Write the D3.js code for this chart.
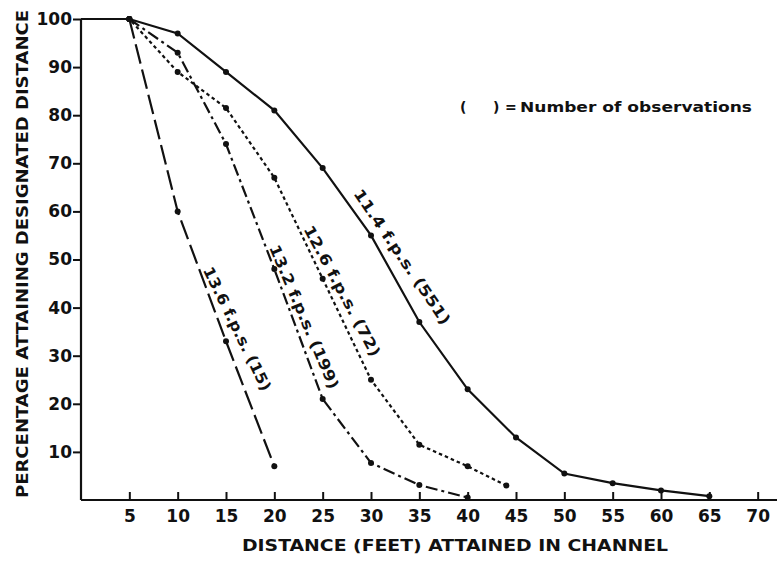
<!DOCTYPE html>
<html>
<head>
<meta charset="utf-8">
<script src="https://cdn.jsdelivr.net/npm/d3@7"></script>
<style>
  html, body { margin: 0; padding: 0; background: #fff; }
  svg { display: block; }
  text { font-family: "DejaVu Sans", "Liberation Sans", sans-serif; font-weight: bold; fill: #111; }
</style>
</head>
<body>
<svg id="chart" width="782" height="563"></svg>
<script>
// Distances (feet) and percentage of fish attaining each distance, per velocity.
const xTicks = [5, 10, 15, 20, 25, 30, 35, 40, 45, 50, 55, 60, 65, 70];
const yTicks = [10, 20, 30, 40, 50, 60, 70, 80, 90, 100];

const dist114 = [0, 5, 10, 15, 20, 25, 30, 35, 40, 45, 50, 55, 60, 65];
const pct114  = [100, 100, 97, 89, 81, 69, 55, 37, 23, 13, 5.5, 3.5, 2, 0.8];

const dist126 = [0, 5, 10, 15, 20, 25, 30, 35, 40, 44];
const pct126  = [100, 100, 89, 81.5, 67, 46, 25, 11.5, 7, 3];

const dist132 = [5, 10, 15, 20, 25, 30, 35, 40];
const pct132  = [100, 93, 74, 48, 21, 7.7, 3.1, 0.5];

const dist136 = [5, 10, 15, 20];
const pct136  = [100, 60, 33, 7];

const seriesLabels = ["11.4 f.p.s. (551)", "12.6 f.p.s. (72)", "13.2 f.p.s. (199)", "13.6 f.p.s. (15)"];

const svg = d3.select("#chart");
const x = d3.scaleLinear().domain([0, 72]).range([81, 777]);
const y = d3.scaleLinear().domain([0, 100]).range([500, 19]);

// Axes
const xAxis = d3.axisBottom(x).tickValues(xTicks).tickSize(-8).tickPadding(10).tickFormat(d3.format("d"));
const yAxis = d3.axisLeft(y).tickValues(yTicks).tickSize(8).tickPadding(1).tickFormat(d3.format("d"));

const gx = svg.append("g").attr("transform", `translate(0,${y(0)})`).call(xAxis);
const gy = svg.append("g").attr("transform", `translate(${x(0)},0)`).call(yAxis);

[gx, gy].forEach(g => {
  g.select(".domain").attr("stroke", "#111").attr("stroke-width", 2.2);
  g.selectAll(".tick line").attr("stroke", "#111").attr("stroke-width", 2);
  g.selectAll(".tick text").style("font-size", "17px").attr("fill", "#111");
});
gx.select(".domain").attr("d", `M${x(0)},0H${x(72)}`);
gy.select(".domain").attr("d", `M0,${y(0)}V${y(100)}`);

// Series lines
const series = [
  { xs: dist114, ys: pct114, dash: null, w: 2.2 },
  { xs: dist126, ys: pct126, dash: "3.5,3", w: 2.2 },
  { xs: dist132, ys: pct132, dash: "12,4,3,4", w: 2.2 },
  { xs: dist136, ys: pct136, dash: "20,6", w: 2.2 }
];

const line = d3.line().x(d => x(d[0])).y(d => y(d[1]));

series.forEach(s => {
  const pts = s.xs.map((v, i) => [v, s.ys[i]]);
  svg.append("path")
    .datum(pts)
    .attr("d", line)
    .attr("fill", "none")
    .attr("stroke", "#111")
    .attr("stroke-width", s.w)
    .attr("stroke-dasharray", s.dash);
  svg.append("g").selectAll("circle")
    .data(pts.filter(p => p[0] > 0))
    .join("circle")
    .attr("cx", d => x(d[0]))
    .attr("cy", d => y(d[1]))
    .attr("r", 3)
    .attr("fill", "#111");
});

// Labels written along each curve
const labelPlacement = [
  { cx: 402, cy: 257, angle: 56, len: 160 },
  { cx: 342, cy: 291, angle: 62, len: 146 },
  { cx: 304, cy: 317, angle: 67, len: 155 },
  { cx: 237, cy: 329, angle: 64, len: 136 }
];
seriesLabels.forEach((t, i) => {
  const p = labelPlacement[i];
  svg.append("text")
    .attr("transform", `translate(${p.cx},${p.cy}) rotate(${p.angle})`)
    .attr("text-anchor", "middle")
    .attr("dominant-baseline", "central")
    .attr("textLength", p.len)
    .attr("lengthAdjust", "spacingAndGlyphs")
    .style("font-size", "15px")
    .text(t);
});

// Key for the bracketed numbers
const key = svg.append("g").style("font-size", "14px");
key.append("text").attr("x", 460).attr("y", 112).text("(");
key.append("text").attr("x", 493).attr("y", 112).text(")");
key.append("text").attr("x", 505).attr("y", 112).text("=");
key.append("text")
  .attr("x", 520).attr("y", 112)
  .attr("textLength", 232)
  .attr("lengthAdjust", "spacingAndGlyphs")
  .text("Number of observations");

// Axis titles
svg.append("text")
  .attr("x", 455).attr("y", 551)
  .attr("text-anchor", "middle")
  .attr("textLength", 426)
  .attr("lengthAdjust", "spacingAndGlyphs")
  .style("font-size", "16px")
  .text("DISTANCE (FEET) ATTAINED IN CHANNEL");

svg.append("text")
  .attr("transform", "translate(28,254) rotate(-90)")
  .attr("text-anchor", "middle")
  .attr("textLength", 488)
  .attr("lengthAdjust", "spacingAndGlyphs")
  .style("font-size", "16px")
  .text("PERCENTAGE ATTAINING DESIGNATED DISTANCE");
</script>
</body>
</html>
